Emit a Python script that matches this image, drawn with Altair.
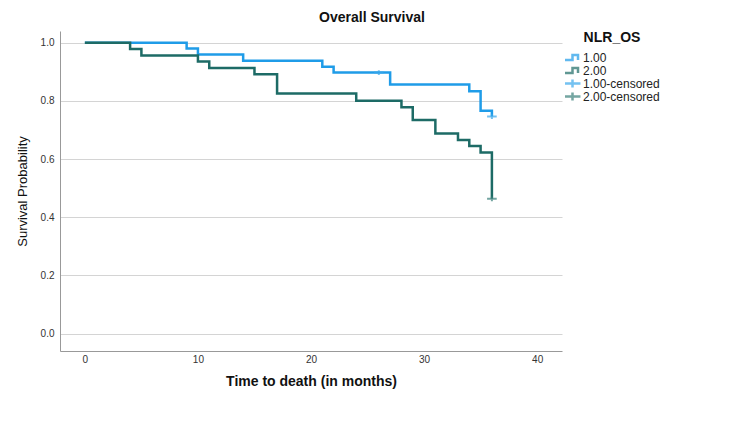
import altair as alt
import pandas as pd

# Group 1.00
t1 = [0, 9, 10, 14, 21, 22, 27, 34, 35, 36]
s1 = [1.0, 0.980, 0.959, 0.938, 0.917, 0.897, 0.856, 0.833, 0.766, 0.746]
# Group 2.00
t2 = [0, 4, 5, 10, 11, 15, 17, 24, 28, 29, 31, 33, 34, 35, 36]
s2 = [1.0, 0.978, 0.956, 0.935, 0.913, 0.891, 0.825, 0.800, 0.778, 0.734, 0.688, 0.665, 0.645, 0.622, 0.463]
# Censored
c1_t = [26, 36]
c1_s = [0.897, 0.746]
c2_t = [36]
c2_s = [0.463]

series = ["1.00", "2.00", "1.00-censored", "2.00-censored"]
colors = ["#1f9ce8", "#1d6b66", "#3aa8ec", "#3a807b"]
step_sym = "M-1.3,0.4H0V-0.4H0.9V0.4"
cross_sym = "M-1.3,0H1.3M0,-0.65V0.65"

lines = pd.DataFrame(
    [{"t": t, "s": s, "series": "1.00"} for t, s in zip(t1, s1)]
    + [{"t": t, "s": s, "series": "2.00"} for t, s in zip(t2, s2)]
)
cens = pd.DataFrame(
    [{"t": t, "s": s, "series": "1.00-censored"} for t, s in zip(c1_t, c1_s)]
    + [{"t": t, "s": s, "series": "2.00-censored"} for t, s in zip(c2_t, c2_s)]
)

x = alt.X("t:Q", title="Time to death (in months)",
          scale=alt.Scale(domain=[-2.2, 42.2], nice=False, zero=False),
          axis=alt.Axis(values=[0, 10, 20, 30, 40], grid=False, ticks=False,
                        labelPadding=3, titlePadding=10, labelFontSize=10,
                        labelColor="#333", titleFontSize=14, titleFontWeight="bold",
                        titleColor="#111", domainColor="#999"))
y = alt.Y("s:Q", title="Survival Probability",
          scale=alt.Scale(domain=[-0.06, 1.04], nice=False, zero=False),
          axis=alt.Axis(values=[0, 0.2, 0.4, 0.6, 0.8, 1.0], format=".1f", grid=True,
                        gridColor="#d4d4d4", ticks=False, labelPadding=6, labelFontSize=10,
                        labelColor="#333", titleFontSize=13, titleFontWeight="normal",
                        titleColor="#111", titlePadding=11, domainColor="#999"))

color = alt.Color("series:N", title="NLR_OS",
                  scale=alt.Scale(domain=series, range=colors),
                  legend=alt.Legend(orient="right", offset=3, titleFontSize=14,
                                    titleFontWeight="bold", titleColor="#111",
                                    titleAnchor="middle", direction="vertical",
                                    labelFontSize=12, labelColor="#222",
                                    symbolStrokeWidth=2.5, symbolSize=150,
                                    symbolFillColor="transparent", rowPadding=0,
                                    clipHeight=13,
                                    labelOffset=3, titlePadding=6))
shape = alt.Shape("series:N", title="NLR_OS",
                  scale=alt.Scale(domain=series, range=[step_sym, step_sym, cross_sym, cross_sym]))

line_layer = alt.Chart(lines).mark_line(interpolate="step-after", strokeWidth=2.5).encode(
    x=x, y=y, color=color, detail="series:N")
pt_layer = alt.Chart(cens).mark_point(size=55, strokeWidth=2, filled=False).encode(
    x=x, y=y, color=color, shape=shape)

chart = (line_layer + pt_layer).properties(
    width=502, height=320,
    padding={"left": 8, "top": 3, "right": 5, "bottom": 5},
    title=alt.TitleParams("Overall Survival", fontSize=14, fontWeight="bold", color="#111",
                          offset=6, anchor="middle", dx=61),
).configure(font="Liberation Sans").configure_view(stroke=None)

chart.save("out.html", embed_options={"renderer": "svg", "actions": False})
